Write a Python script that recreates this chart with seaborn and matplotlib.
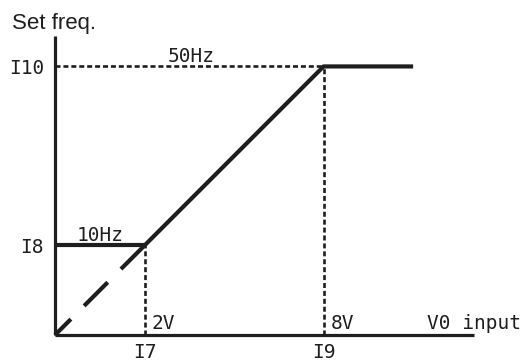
import matplotlib
matplotlib.use("Agg")
import matplotlib.pyplot as plt
import seaborn as sns
import pandas as pd

# ---- data (schematic units: I7/I8 = 1, I9/I10 = 3) ----
x_ticks = [1, 3]
x_tick_labels = ["I7", "I9"]
y_ticks = [1, 3]
y_tick_labels = ["I8", "I10"]
x_limit = 4.68
y_limit = 3.34

curve_x = [1, 3, 4]
curve_y = [1, 3, 3]
low_x = [0, 1]
low_y = [1, 1]
ext_x = [1, 0]
ext_y = [1, 0]

volt_labels = ["2V", "8V"]
freq_labels = ["10Hz", "50Hz"]
freq_label_x = [0.246, 1.26]

COL = "#1e1e1e"
MONO = "DejaVu Sans Mono"

sns.set_style("white")
plt.rcParams["font.family"] = ["Liberation Sans", "DejaVu Sans"]

fig = plt.figure(figsize=(5.2, 3.62), dpi=100)
ax = fig.add_axes([55 / 520, 27 / 362, 419 / 520, 299 / 362])
ax.set_xlim(0, x_limit)
ax.set_ylim(0, y_limit)

DOT = (1.9, 1.1)
# guide lines (dotted)
for xv, yv in zip(x_ticks, y_ticks):
    sns.lineplot(x=[xv, xv], y=[0, yv], ax=ax, color=COL, lw=1.9,
                 estimator=None, sort=False, clip_on=False
                 ).lines[-1].set_dashes(DOT)
sns.lineplot(x=[0, x_ticks[1]], y=[y_ticks[1], y_ticks[1]], ax=ax, color=COL,
             lw=1.9, estimator=None, sort=False, clip_on=False).lines[-1].set_dashes(DOT)

# main lines
df_curve = pd.DataFrame({"x": curve_x, "y": curve_y})
sns.lineplot(data=df_curve, x="x", y="y", ax=ax, color=COL, lw=3.0,
             estimator=None, sort=False, clip_on=False, solid_capstyle="butt")
df_low = pd.DataFrame({"x": low_x, "y": low_y})
sns.lineplot(data=df_low, x="x", y="y", ax=ax, color=COL, lw=3.0,
             estimator=None, sort=False, clip_on=False, solid_capstyle="butt")
df_ext = pd.DataFrame({"x": ext_x, "y": ext_y})
sns.lineplot(data=df_ext, x="x", y="y", ax=ax, color=COL, lw=3.0,
             estimator=None, sort=False, clip_on=False).lines[-1].set_dashes((8, 4.5))
ax.lines[-1].set_dash_capstyle("butt")

# axes
for s in ["top", "right"]:
    ax.spines[s].set_visible(False)
for s in ["left", "bottom"]:
    ax.spines[s].set_linewidth(2.3)
    ax.spines[s].set_color(COL)
    ax.spines[s].set_capstyle("butt")

ax.set_xticks(x_ticks, x_tick_labels)
ax.set_yticks(y_ticks, y_tick_labels)
ax.tick_params(axis="both", length=0, labelsize=14, colors=COL)
ax.tick_params(axis="x", pad=6)
ax.tick_params(axis="y", pad=8)
for lab in ax.get_xticklabels() + ax.get_yticklabels():
    lab.set_fontfamily(MONO)
ax.set_xlabel("")
ax.set_ylabel("")

# labels
for xv, txt in zip(x_ticks, volt_labels):
    ax.annotate(txt, (xv, 0), xytext=(5, 4), textcoords="offset points",
                ha="left", va="baseline", fontsize=14, family=MONO, color=COL)
for fx, yv, txt in zip(freq_label_x, y_ticks, freq_labels):
    ax.annotate(txt, (fx, yv), xytext=(0, 3.5), textcoords="offset points",
                ha="left", va="baseline", fontsize=14, family=MONO, color=COL)
ax.annotate("V0 input", (4.16, 0), xytext=(0, 4), textcoords="offset points",
            ha="left", va="baseline", fontsize=14, family=MONO, color=COL)

fig.text(12 / 520, 1 - 29 / 362, "Set freq.", ha="left", va="baseline",
         fontsize=16, color=COL)

fig.savefig("out.png", dpi=100)
